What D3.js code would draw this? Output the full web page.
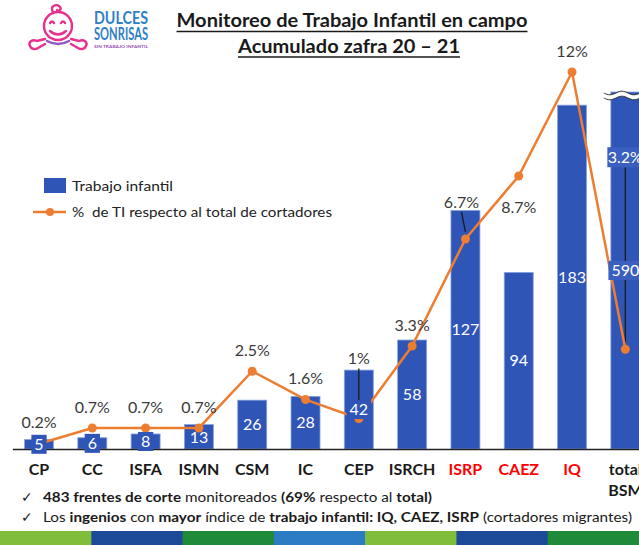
<!DOCTYPE html>
<html>
<head>
<meta charset="utf-8">
<script src="https://cdn.jsdelivr.net/npm/d3@7"></script>
<style>
  body { margin: 0; background: #fff; }
  svg { display: block; }
  text { font-family: Lato, "Open Sans", sans-serif; white-space: pre; }
</style>
</head>
<body>
<svg id="grafico" width="639" height="545"></svg>
<script>
// Datos
const categorias = ["CP", "CC", "ISFA", "ISMN", "CSM", "IC", "CEP", "ISRCH", "ISRP", "CAEZ", "IQ", "total BSM"]
const trabajoInfantil = [5, 6, 8, 13, 26, 28, 42, 58, 127, 94, 183, 590]
const porcentajeTI = [0.2, 0.7, 0.7, 0.7, 2.5, 1.6, 1, 3.3, 6.7, 8.7, 12, 3.2]
const etiquetasPct = ["0.2%", "0.7%", "0.7%", "0.7%", "2.5%", "1.6%", "1%", "3.3%", "6.7%", "8.7%", "12%", "3.2%"]
const ingeniosMigrantes = ["ISRP", "CAEZ", "IQ"]
const titulo = ["Monitoreo de Trabajo Infantil en campo", "Acumulado zafra 20 \u2013 21"]
const leyenda = ["Trabajo infantil", "%  de TI respecto al total de cortadores"]
const notas = [
  [["483 frentes de corte", true], [" monitoreados ", false], ["(69%", true], [" respecto al ", false], ["total)", true]],
  [["Los ", false], ["ingenios", true], [" con ", false], ["mayor", true], [" \u00edndice de ", false], ["trabajo infantil: IQ, CAEZ, ISRP", true], [" (cortadores migrantes)", false]]
]
const coloresFranja = ["#7fbd3b", "#1d4a98", "#1f8a38", "#2c7cc4", "#7fbd3b", "#1d4a98", "#1f8a38"]

// colores
const azul = "#2f55b7"
const naranja = "#ed7d31"

let svg = d3.select("#grafico")

let datos = categorias.map((c, i) => ({
  cat: c,
  valor: trabajoInfantil[i],
  pct: porcentajeTI[i],
  etiqueta: etiquetasPct[i]
}))

// Escalas
let x = d3.scaleBand()
  .domain(categorias)
  .range([12.35, 652])
  .paddingInner(0.456)
  .paddingOuter(0.228)

let y = d3.scaleLinear().domain([0, 190]).range([449, 92]).clamp(true)
let yPct = d3.scaleLinear().domain([0, 12]).range([450, 72])

let centro = d => x(d.cat) + x.bandwidth() / 2

// ajustes de etiquetas de porcentaje (posicion relativa al punto)
let desplazPct = { "CEP": -60, "ISRP": -37, "CAEZ": 31, "total BSM": -192 }
let conGuia = ["CEP", "ISRP", "total BSM"]
// etiquetas de valor con caja de fondo visible
let conCaja = ["CP", "CC", "ISFA", "CEP", "total BSM"]

// Barras
svg.append("g").selectAll("rect")
  .data(datos)
  .join("rect")
  .attr("x", d => x(d.cat))
  .attr("y", d => y(d.valor))
  .attr("width", x.bandwidth())
  .attr("height", d => y(0) - y(d.valor))
  .attr("fill", azul)
  .attr("stroke", "#8aa3de")
  .attr("stroke-width", 0.8)

// simbolo de corte en la barra total
let total = datos[datos.length - 1]
let xt0 = x(total.cat) - 7, xt1 = 640
let yt = y(total.valor)
let onda = (off) => d3.range(0, 13).map(k => {
  let xx = xt0 + (xt1 - xt0) * k / 12
  return [xx, yt + off + 2 * Math.sin(k / 12 * Math.PI * 3)]
})
let lineaOnda = d3.line().curve(d3.curveBasis)
svg.append("path")
  .attr("d", lineaOnda(onda(1)) + "L" + lineaOnda(onda(6).reverse()).slice(1))
  .attr("fill", "#fff")
svg.append("path").attr("d", lineaOnda(onda(1))).attr("fill", "none").attr("stroke", "#333").attr("stroke-width", 1)
svg.append("path").attr("d", lineaOnda(onda(6))).attr("fill", "none").attr("stroke", "#333").attr("stroke-width", 1)

// Eje
svg.append("g")
  .attr("transform", `translate(0,${y(0)})`)
  .call(d3.axisBottom(x).tickSize(0).tickSizeOuter(0).tickFormat(""))
  .call(g => g.select(".domain").attr("stroke", "#222").attr("stroke-width", 1.5))

// Etiquetas de categorias
let etCat = svg.append("g").selectAll("text")
  .data(datos)
  .join("text")
  .attr("x", d => centro(d))
  .attr("y", 475)
  .attr("text-anchor", "middle")
  .attr("font-size", 16)
  .attr("font-weight", "bold")
  .attr("fill", d => ingeniosMigrantes.includes(d.cat) ? "#ff0000" : "#1a1a1a")
etCat.each(function (d) {
  let partes = d.cat.split(" ")
  d3.select(this).selectAll("tspan")
    .data(partes)
    .join("tspan")
    .attr("x", centro(d))
    .attr("dy", (p, i) => i ? 21 : 0)
    .text(p => p)
})

// Lineas guia de porcentaje
svg.append("g").selectAll("line")
  .data(datos.filter(d => conGuia.includes(d.cat)))
  .join("line")
  .attr("x1", d => centro(d) - (d.cat === "ISRP" ? 4 : 0))
  .attr("x2", d => centro(d))
  .attr("y1", d => yPct(d.pct) + desplazPct[d.cat] + 10)
  .attr("y2", d => yPct(d.pct) - 7)
  .attr("stroke", "#1a1a1a")
  .attr("stroke-width", 1.3)

// Linea de porcentaje
let linea = d3.line().x(d => centro(d)).y(d => yPct(d.pct))
svg.append("path")
  .datum(datos)
  .attr("d", linea)
  .attr("fill", "none")
  .attr("stroke", naranja)
  .attr("stroke-width", 2.5)
svg.append("g").selectAll("circle")
  .data(datos)
  .join("circle")
  .attr("cx", d => centro(d))
  .attr("cy", d => yPct(d.pct))
  .attr("r", 4.5)
  .attr("fill", naranja)

// Etiquetas de valores (dentro de las barras)
let etVal = svg.append("g").selectAll("g")
  .data(datos)
  .join("g")
  .attr("transform", d => `translate(${centro(d)},${(y(d.valor) + y(0)) / 2})`)
etVal.append("text")
  .attr("text-anchor", "middle")
  .attr("dy", "0.36em")
  .attr("font-size", 16)
  .attr("fill", "#fff")
  .text(d => d.valor)
etVal.filter(d => conCaja.includes(d.cat))
  .insert("rect", "text")
  .each(function () {
    let w = this.parentNode.querySelector("text").getComputedTextLength()
    d3.select(this)
      .attr("x", -w / 2 - 3)
      .attr("y", -9.5)
      .attr("width", w + 6)
      .attr("height", 19)
  })
  .attr("fill", d => d.cat === "total BSM" ? "#3a5fc0" : azul)

// Etiquetas de porcentaje
let etPct = svg.append("g").selectAll("g")
  .data(datos)
  .join("g")
  .attr("transform", d => `translate(${centro(d) + (d.cat === "ISRP" ? -4 : 0)},${yPct(d.pct) + (desplazPct[d.cat] ?? -21)})`)
etPct.filter(d => d.cat === "total BSM")
  .append("rect")
  .attr("x", -18).attr("y", -10).attr("width", 40).attr("height", 20)
  .attr("fill", "#3a5fc0")
etPct.append("text")
  .attr("text-anchor", "middle")
  .attr("dy", "0.36em")
  .attr("font-size", 16)
  .attr("fill", d => d.cat === "total BSM" ? "#fff" : "#3a3a3a")
  .text(d => d.etiqueta)

// Titulo
titulo.forEach((t, i) => {
  let anchos = [351, 222]
  let cx = 352 - (i ? 3 : 0)
  svg.append("text")
    .attr("x", cx)
    .attr("y", i ? 53 : 27)
    .attr("text-anchor", "middle")
    .attr("font-size", 19.5)
    .attr("font-weight", "bold")
    .attr("fill", "#1a1a1a")
    .attr("textLength", anchos[i])
    .attr("lengthAdjust", "spacingAndGlyphs")
    .text(t)
  svg.append("line")
    .attr("x1", cx - anchos[i] / 2).attr("x2", cx + anchos[i] / 2)
    .attr("y1", i ? 57 : 31.5).attr("y2", i ? 57 : 31.5)
    .attr("stroke", "#1a1a1a").attr("stroke-width", 1.6)
})

// Leyenda
let ley = svg.append("g")
ley.append("rect").attr("x", 44).attr("y", 178).attr("width", 22).attr("height", 15).attr("fill", azul)
ley.append("text").attr("x", 72).attr("y", 191).attr("font-size", 14).attr("fill", "#222")
  .attr("textLength", 101).attr("lengthAdjust", "spacingAndGlyphs").text(leyenda[0])
ley.append("line").attr("x1", 33).attr("x2", 66).attr("y1", 212).attr("y2", 212)
  .attr("stroke", naranja).attr("stroke-width", 2.5)
ley.append("circle").attr("cx", 50).attr("cy", 212).attr("r", 4).attr("fill", naranja)
ley.append("text").attr("x", 72).attr("y", 217).attr("font-size", 14).attr("fill", "#222")
  .attr("textLength", 260).attr("lengthAdjust", "spacingAndGlyphs").text(leyenda[1])

// Notas al pie
let anchosNotas = [389, 589]
notas.forEach((n, i) => {
  let yy = i ? 522 : 502
  svg.append("text").attr("x", 21).attr("y", yy).attr("font-size", 14)
    .attr("font-family", "DejaVu Sans").attr("fill", "#222").text("\u2713")
  let t = svg.append("text").attr("x", 43).attr("y", yy).attr("font-size", 13.5).attr("fill", "#1a1a1a")
  t.selectAll("tspan").data(n).join("tspan")
    .attr("font-weight", p => p[1] ? "bold" : "normal")
    .text(p => p[0])
  t.attr("textLength", anchosNotas[i]).attr("lengthAdjust", "spacingAndGlyphs")
})

// Franja inferior
let xf = d3.scaleBand().domain(d3.range(coloresFranja.length)).range([0, 639])
svg.append("g").selectAll("rect")
  .data(coloresFranja)
  .join("rect")
  .attr("x", (c, i) => xf(i))
  .attr("y", 531)
  .attr("width", xf.bandwidth() + 0.5)
  .attr("height", 14)
  .attr("fill", c => c)

// Logo
let logo = svg.append("g").attr("fill", "none").attr("stroke", "#e8308e").attr("stroke-width", 2.4)
  .attr("stroke-linecap", "round")
logo.append("circle").attr("cx", 58).attr("cy", 26).attr("r", 14)
logo.append("path").attr("d", "M53,12 C49,6 57,3 60,7 C62,10 58,12 57,10")
logo.append("path").attr("d", "M50,23 q2,-3 4,0 M61,23 q2,-3 4,0")
logo.append("path").attr("d", "M50,31 q8,7 16,0")
logo.append("path").attr("d", "M47,41 q11,6 22,0").attr("stroke", "#8e56c2")
logo.append("path").attr("d", "M45,39 l-8,2 c-5,-2 -9,1 -7,5 c1,3 5,4 8,2 l7,-4")
logo.append("path").attr("d", "M71,39 l8,2 c5,-2 9,1 7,5 c-1,3 -5,4 -8,2 l-7,-4")
let textoLogo = [["DULCES", 23.5, 16.5, "#2f7fc6"], ["SONRISAS", 39.5, 16.5, "#2f7fc6"], ["SIN TRABAJO INFANTIL", 47.5, 4.5, "#9b4fb9"]]
svg.append("g").selectAll("text")
  .data(textoLogo)
  .join("text")
  .attr("x", 94)
  .attr("y", d => d[1])
  .attr("font-family", "Roboto")
  .attr("font-weight", "bold")
  .attr("font-size", d => d[2])
  .attr("fill", d => d[3])
  .attr("textLength", 54)
  .attr("lengthAdjust", "spacingAndGlyphs")
  .text(d => d[0])
</script>
</body>
</html>
